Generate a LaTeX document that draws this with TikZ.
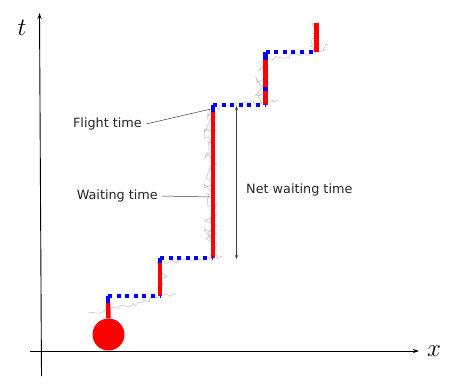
\documentclass[tikz,border=0pt]{standalone}
\usepackage{fontspec}
\newfontfamily\dv{DejaVu Sans}
\usetikzlibrary{arrows.meta,decorations.pathmorphing}
\begin{document}
\begin{tikzpicture}[x=1pt,y=-1pt,
  axis/.style={line width=0.9pt,-{Stealth[length=6pt,width=4pt]}},
  wait/.style={red,line width=4.5pt},
  flight/.style={blue,line width=4pt,dash pattern=on 4pt off 4.6pt},
  fseg/.style={blue,line width=4.5pt},
  noise/.style={gray!45,line width=0.6pt,decorate,decoration={random steps,segment length=3pt,amplitude=2.5pt}},
  vnoise/.style={noise,decoration={random steps,segment length=3.5pt,amplitude=7pt}},
  lbl/.style={font=\dv\fontsize{12.8}{14}\selectfont,text=black!85,inner sep=1pt},
  leader/.style={black!75,line width=0.5pt}]
\useasboundingbox (0,0) rectangle (463,383);
\pgfmathsetseed{11}
% noisy trajectory
\draw[noise] (88,313) -- (108,311) -- (160,297) -- (176,293);
\draw[vnoise] (162,296) -- (162,264);
\draw[noise] (160,263) -- (213,257) -- (222,256);
\draw[vnoise] (210,256) -- (210,110);
\draw[noise] (213,108) -- (265,101) -- (278,100);
\draw[vnoise] (262,104) -- (262,60);
\draw[noise] (265,60) -- (316,52) -- (328,45);
\draw[noise,decoration={random steps,segment length=3pt,amplitude=4pt}] (314,50) -- (314,24);
% axes
\coordinate (xs) at (30,351); \coordinate (xe) at (419,351);
\coordinate (ts) at (41.5,376); \coordinate (te) at (39.5,13);
\draw[axis] (xs) -- (xe);
\draw[axis] (ts) -- (te);
\node (xl) at (434,351) {\fontsize{30}{30}\selectfont$x$};
\node (tl) at (22,28) {\fontsize{30}{30}\selectfont$t$};
% particle
\node[circle,fill=red,minimum size=32pt,inner sep=0pt] (p) at (108.5,334.5) {};
% staircase coordinates
\coordinate (a1) at (108,303); \coordinate (a2) at (108,295.5);
\coordinate (b0) at (160,295.5); \coordinate (b1) at (160,263); \coordinate (b2) at (160,257.5);
\coordinate (c0) at (213,257.5); \coordinate (c1) at (213,112); \coordinate (c2) at (213,105);
\coordinate (d0) at (265.5,105); \coordinate (d1) at (265.5,91); \coordinate (d2) at (265.5,87);
\coordinate (d3) at (265.5,60); \coordinate (d4) at (265.5,52);
\coordinate (e0) at (316.5,52); \coordinate (e1) at (316.5,23);
% waiting (red)
\draw[wait] (p.north) -- (a1);
\draw[wait] (b0) -- (b1);
\draw[wait] (c0) -- (c1);
\draw[wait] (d0) -- (d1);
\draw[wait] (d2) -- (d3);
\draw[wait] (e0) -- (e1);
% flight (blue)
\draw[fseg] (a1) -- (a2);
\draw[fseg] (b1) -- (b2);
\draw[fseg] (c1) -- (c2);
\draw[fseg] (d1) -- (d2);
\draw[fseg] (d3) -- (d4);
\draw[flight] (a2) -- (b0);
\draw[flight] (b2) -- (c0);
\draw[flight] (c2) -- (d0);
\draw[flight] (d4) -- (e0);
% labels
\node[lbl,anchor=east] (ft) at (143,124) {Flight time};
\node[lbl,anchor=east] (wt) at (159,196) {Waiting time};
\node[lbl,anchor=west] (nw) at (245,190) {Net waiting time};
\coordinate (ftp) at (211,109);
\coordinate (wtp) at (210.5,197);
\draw[leader] (ft.east) ++(3,0) -- (ftp);
\draw[leader] (wt.east) ++(3,0) -- (wtp);
\coordinate (n1) at (236.5,106); \coordinate (n2) at (236.5,259);
\draw[leader,{Stealth[length=4pt,width=3pt]}-{Stealth[length=4pt,width=3pt]}] (n1) -- (n2);
\end{tikzpicture}
\end{document}
